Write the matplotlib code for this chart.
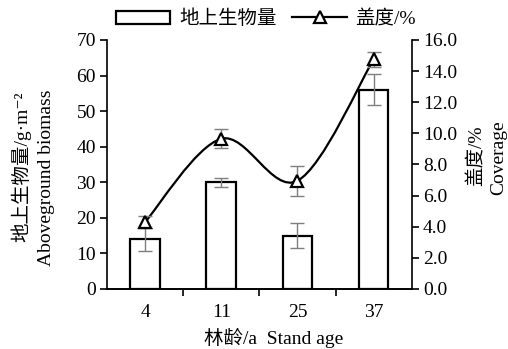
import numpy as np
import matplotlib
matplotlib.use("Agg")
import matplotlib.pyplot as plt
from matplotlib.path import Path
from matplotlib.patches import PathPatch, Patch
from matplotlib.lines import Line2D

plt.rcParams['font.family'] = ['Liberation Serif', 'Noto Sans CJK SC', 'DejaVu Serif']
plt.rcParams['font.size'] = 14

# data
ages = ['4', '11', '25', '37']
biomass = [14, 30, 15, 56]
biomass_err = [3.2, 1.2, 3.5, 4.3]
coverage = [4.3, 9.65, 6.95, 14.75]
coverage_err = [0.4, 0.6, 0.95, 0.5]

x = np.arange(len(ages))

fig = plt.figure(figsize=(5.08, 3.49), dpi=100)
ax = fig.add_axes([0.2106, 0.172, 0.5998, 0.7135])
ax2 = ax.twinx()

ax.bar(x, biomass, width=0.39, facecolor='white', edgecolor='black',
       linewidth=1.6, zorder=2)
ax.errorbar(x, biomass, yerr=biomass_err, fmt='none', ecolor='#7f7f7f',
            elinewidth=1.0, capsize=5, capthick=1.0, zorder=3)

# smoothed line (catmull-rom style bezier through the points)
pts = np.column_stack([x, coverage]).astype(float)
padded = np.vstack([pts[0], pts, pts[-1]])
verts = [pts[0]]
for i in range(len(pts) - 1):
    p0, p1, p2, p3 = padded[i], padded[i + 1], padded[i + 2], padded[i + 3]
    verts += [p1 + (p2 - p0) / 6, p2 - (p3 - p1) / 6, p2]
codes = [Path.MOVETO] + [Path.CURVE4] * (3 * (len(pts) - 1))
ax2.add_patch(PathPatch(Path(verts, codes), facecolor='none',
                        edgecolor='black', linewidth=1.6, zorder=2))
ax2.errorbar(x, coverage, yerr=coverage_err, fmt='none', ecolor='#7f7f7f',
             elinewidth=1.0, capsize=5, capthick=1.0, zorder=3)
ax2.plot(x, coverage, linestyle='none', marker='^', ms=9, mfc='white',
         mec='black', mew=1.6, zorder=4)

ax.set_xlim(-0.5, 3.5)
ax.set_ylim(0, 70)
ax2.set_ylim(0, 16)
ax.set_yticks(np.arange(0, 71, 10))
ax2.set_yticks(np.arange(0, 16.1, 2))
ax2.set_yticklabels(['%.1f' % v for v in np.arange(0, 16.1, 2)])

ax.set_xticks(x)
ax.set_xticklabels(ages)
ax.set_xticks([0.5, 1.5, 2.5], minor=True)
ax.tick_params(axis='x', which='major', length=0, pad=11)
ax.tick_params(axis='x', which='minor', length=5, width=1.2, direction='out')
ax.tick_params(axis='y', length=5, width=1.2, direction='out', pad=3)
ax2.tick_params(axis='y', length=5, width=1.2, direction='out', pad=3)

for a in (ax, ax2):
    a.spines['top'].set_visible(False)
    for s in ('left', 'right', 'bottom'):
        a.spines[s].set_linewidth(1.2)
ax.spines['right'].set_visible(False)
ax2.spines['left'].set_visible(False)

fig.text(21 / 508, 1 - 167 / 349, '地上生物量/g·m⁻²', rotation=90,
         ha='center', va='center')
fig.text(47 / 508, 1 - 178 / 349, 'Aboveground biomass', rotation=90,
         ha='center', va='center')
fig.text(477 / 508, 1 - 156 / 349, '盖度/%', rotation=90,
         ha='center', va='center')
fig.text(499 / 508, 1 - 158 / 349, 'Coverage', rotation=90,
         ha='center', va='center')
fig.text(274 / 508, 1 - 338 / 349, '林龄/a  Stand age', ha='center', va='center')

handles = [Patch(facecolor='white', edgecolor='black', linewidth=1.6),
           Line2D([], [], color='black', linewidth=1.6, marker='^', ms=9,
                  mfc='white', mec='black', mew=1.6)]
fig.legend(handles, ['地上生物量', '盖度/%'], ncol=2, frameon=False,
           loc='center', bbox_to_anchor=(266 / 508, 1 - 19 / 349),
           handlelength=2.8, handletextpad=0.45, columnspacing=0.8)

fig.savefig('out.png', dpi=100)
